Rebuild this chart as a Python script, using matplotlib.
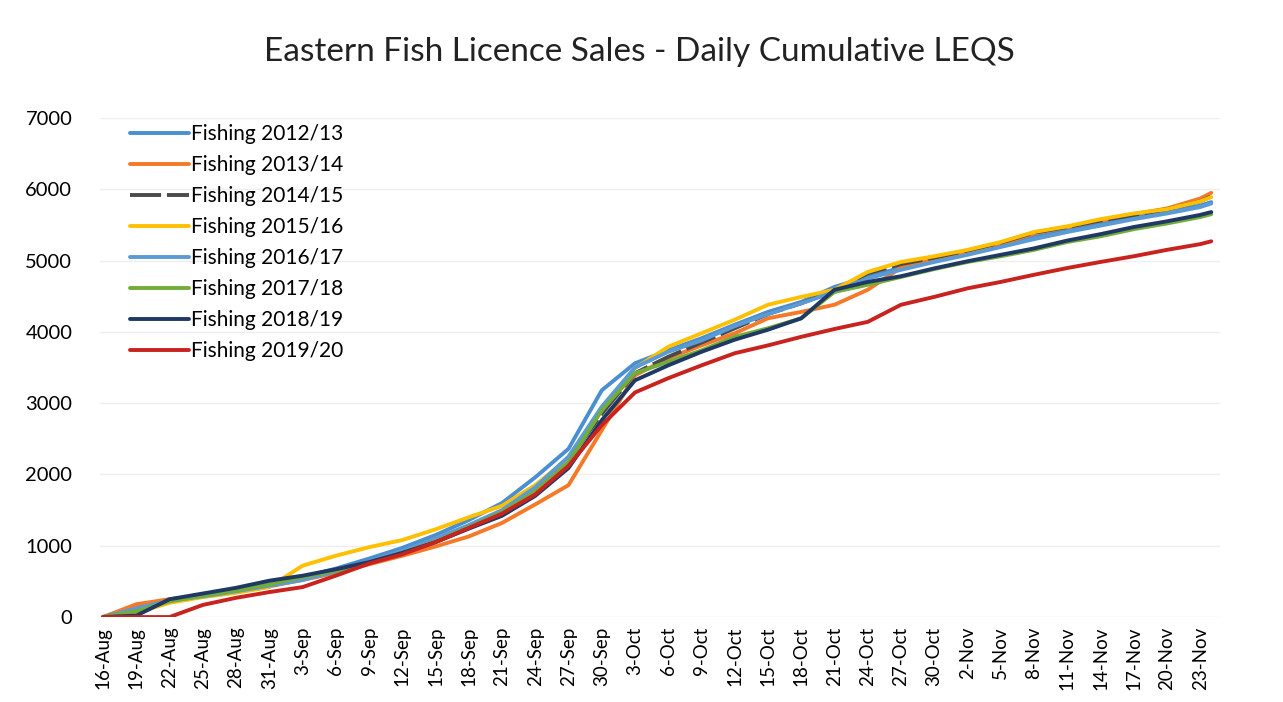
import matplotlib
matplotlib.use("Agg")
import matplotlib.pyplot as plt
import matplotlib.dates as mdates
import pandas as pd

# Dates (every 3 days, plus the last reading day)
day_labels = ["16-Aug", "19-Aug", "22-Aug", "25-Aug", "28-Aug", "31-Aug", "3-Sep", "6-Sep",
              "9-Sep", "12-Sep", "15-Sep", "18-Sep", "21-Sep", "24-Sep", "27-Sep", "30-Sep",
              "3-Oct", "6-Oct", "9-Oct", "12-Oct", "15-Oct", "18-Oct", "21-Oct", "24-Oct",
              "27-Oct", "30-Oct", "2-Nov", "5-Nov", "8-Nov", "11-Nov", "14-Nov", "17-Nov",
              "20-Nov", "23-Nov", "24-Nov"]
dates = pd.to_datetime([d + "-2019" for d in day_labels], format="%d-%b-%Y")

# Cumulative LEQS per season
f2012 = [0, 150, 250, 300, 370, 460, 560, 680, 820, 970, 1150, 1360, 1600, 1960, 2360,
         3180, 3560, 3740, 3910, 4100, 4280, 4420, 4630, 4770,
         4900, 5000, 5100, 5200, 5330, 5420, 5510, 5600, 5680, 5770, 5820]
f2013 = [0, 180, 250, 300, 360, 430, 520, 620, 740, 860, 990, 1130, 1320, 1580, 1850,
         2620, 3390, 3630, 3810, 3980, 4190, 4280, 4380, 4590,
         4900, 5020, 5120, 5230, 5380, 5470, 5560, 5650, 5730, 5870, 5950]
f2014 = [0, 100, 220, 290, 360, 440, 540, 650, 770, 910, 1080, 1280, 1480, 1780, 2200,
         2850, 3420, 3650, 3850, 4050, 4250, 4400, 4580, 4820,
         4950, 5040, 5140, 5250, 5390, 5470, 5560, 5640, 5720, 5830, 5900]
f2015 = [0, 60, 200, 280, 340, 420, 720, 860, 980, 1080, 1230, 1400, 1560, 1850, 2230,
         2900, 3490, 3790, 3980, 4170, 4380, 4490, 4590, 4840,
         4980, 5060, 5150, 5260, 5400, 5480, 5580, 5660, 5720, 5830, 5890]
f2016 = [0, 120, 230, 290, 360, 440, 520, 640, 780, 930, 1100, 1290, 1500, 1820, 2250,
         2950, 3500, 3720, 3880, 4080, 4250, 4400, 4560, 4750,
         4870, 4980, 5080, 5190, 5300, 5400, 5490, 5580, 5660, 5750, 5800]
f2017 = [0, 80, 220, 300, 370, 460, 560, 650, 760, 900, 1060, 1260, 1470, 1760, 2170,
         2900, 3420, 3580, 3740, 3930, 4050, 4190, 4560, 4660,
         4770, 4880, 4980, 5060, 5150, 5260, 5340, 5440, 5520, 5610, 5650]
f2018 = [0, 20, 250, 330, 410, 510, 580, 670, 770, 900, 1050, 1240, 1420, 1700, 2090,
         2760, 3320, 3530, 3720, 3890, 4030, 4190, 4590, 4700,
         4780, 4890, 4990, 5080, 5170, 5280, 5370, 5470, 5550, 5640, 5680]
f2019 = [0, 0, 0, 170, 270, 350, 420, 580, 750, 880, 1050, 1250, 1450, 1720, 2120,
         2690, 3150, 3350, 3530, 3700, 3810, 3930, 4040, 4140,
         4380, 4490, 4610, 4700, 4800, 4895, 4980, 5060, 5150, 5230, 5270]

series = [
    ("Fishing 2012/13", f2012, "#4a8fd0", "-"),
    ("Fishing 2013/14", f2013, "#f47a2a", "-"),
    ("Fishing 2014/15", f2014, "#4a4a4a", (0, (8, 1.5))),
    ("Fishing 2015/16", f2015, "#ffc000", "-"),
    ("Fishing 2016/17", f2016, "#5b9bd5", "-"),
    ("Fishing 2017/18", f2017, "#72ad3a", "-"),
    ("Fishing 2018/19", f2018, "#1f3864", "-"),
    ("Fishing 2019/20", f2019, "#c8231e", "-"),
]

plt.rcParams["font.family"] = ["Lato", "DejaVu Sans"]

fig = plt.figure(figsize=(12.83, 7.02), dpi=100)
ax = fig.add_axes([0.078, 0.121, 0.873, 0.711])

for label, vals, color, ls in series:
    ax.plot(dates, vals, color=color, linestyle=ls, linewidth=2.8, label=label,
            solid_capstyle="round")

start = mdates.date2num(dates[0])
ax.set_xlim(start - 0.27, start + 100.8)
ax.set_ylim(0, 7000)
ax.set_yticks(range(0, 7001, 1000))
ax.set_xticks(dates[:-1])
ax.set_xticklabels(day_labels[:-1], rotation=90)
ax.tick_params(axis="x", labelsize=13.5, length=0, pad=7)
ax.tick_params(axis="y", labelsize=14.5, length=0, pad=20)
ax.grid(axis="y", color="#eeeeee", linewidth=1)
ax.set_axisbelow(True)
for s in ax.spines.values():
    s.set_visible(False)

fig.text(0.498, 0.926, "Eastern Fish Licence Sales - Daily Cumulative LEQS",
         ha="center", va="center", fontsize=24, color="#222222")

ax.legend(loc="upper left", bbox_to_anchor=(0.095, 0.835), bbox_transform=fig.transFigure,
          frameon=False, fontsize=15, handlelength=2.8, handletextpad=0.1,
          labelspacing=0.53, borderaxespad=0)

fig.savefig("out.png", dpi=100)
